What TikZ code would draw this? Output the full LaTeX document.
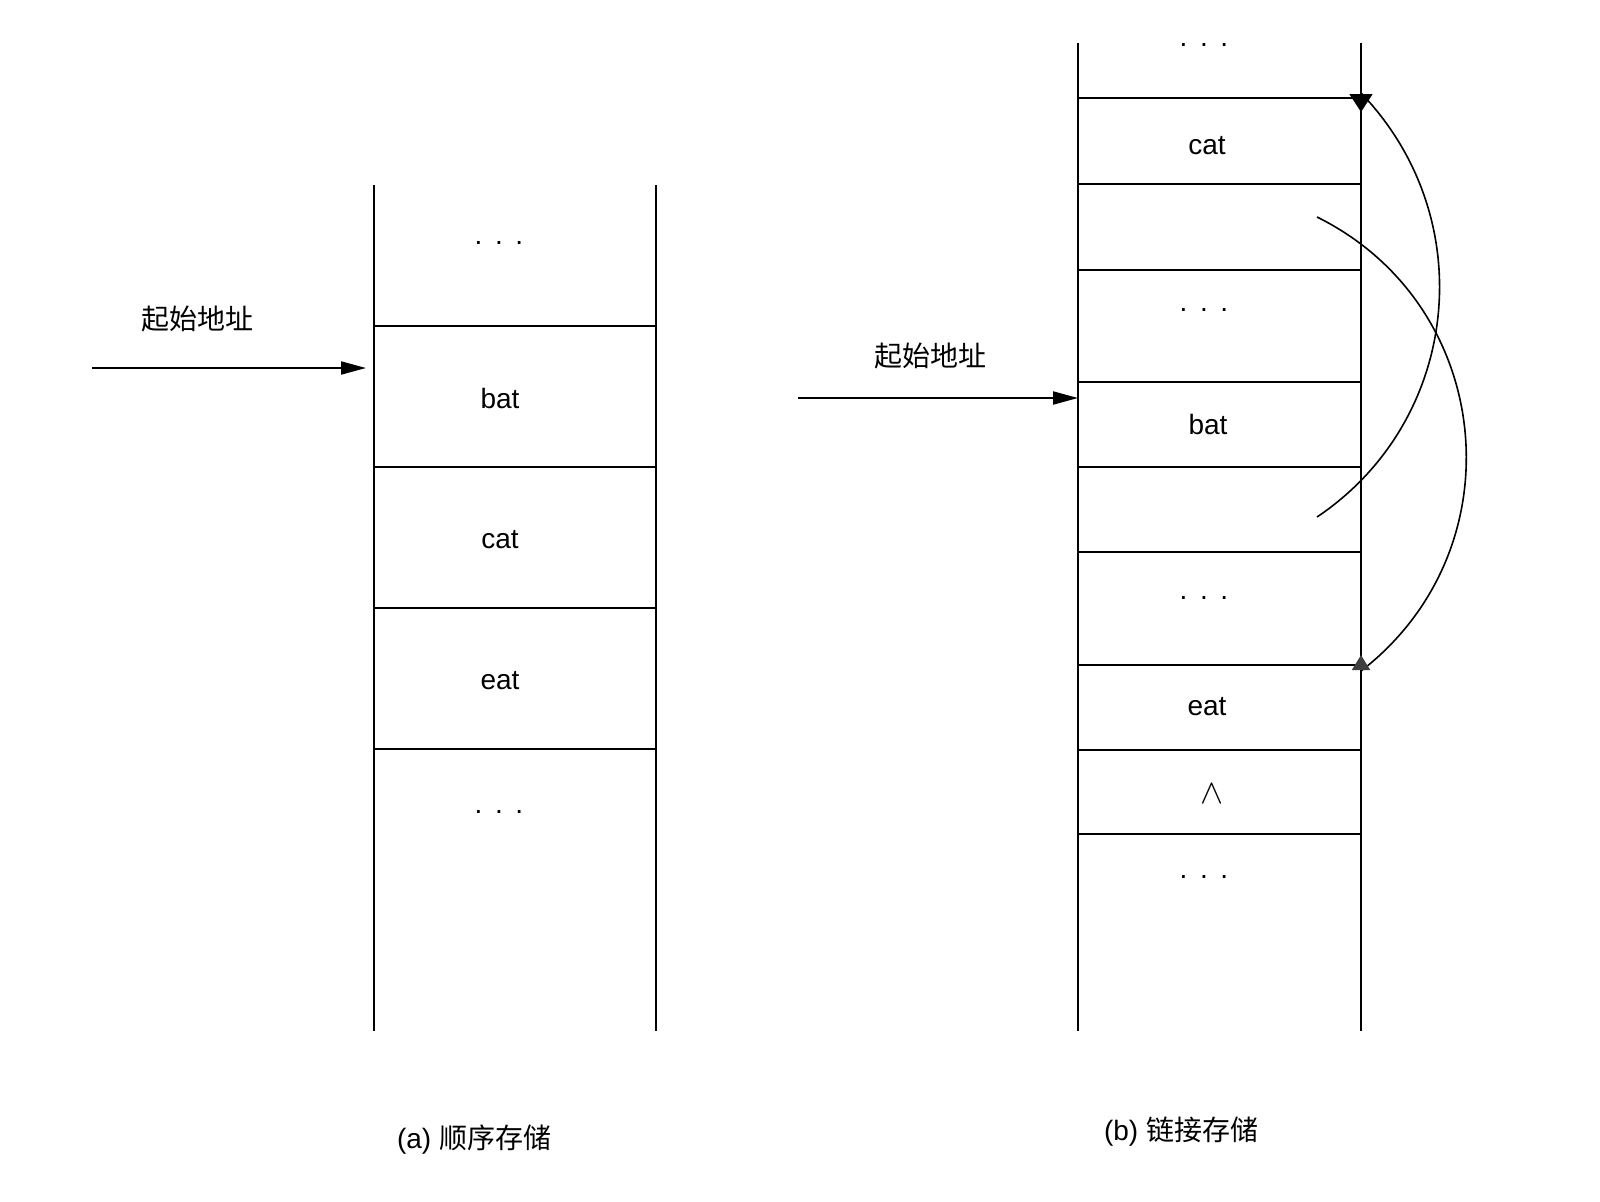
\documentclass[tikz,border=0pt]{standalone}
\usepackage{fontspec}
\setmainfont{Liberation Sans}
\newfontfamily\cjk{Noto Sans CJK SC}
\usetikzlibrary{arrows.meta}
\newcommand{\gap}{.\hspace{0.45em}.\hspace{0.45em}.}

\begin{document}
\begin{tikzpicture}[x=0.5pt,y=-0.5pt,font=\fontsize{14}{17}\selectfont]
\tikzset{wall/.style={line width=1pt},
word/.style={anchor=base,inner sep=0pt},
cn/.style={font=\fontsize{14}{17}\selectfont\cjk,inner sep=0pt},
start/.style={wall,-{Triangle[length=12.5pt,width=6.5pt]}},
link/.style={line width=0.8pt,line join=round}}
\useasboundingbox (0,0) rectangle (1600,1201);

% (a) sequential storage
\draw[wall] (374,185) -- (374,1031);
\draw[wall] (656,185) -- (656,1031);
\foreach \y in {326,467,608,749} \draw[wall] (374,\y) -- (656,\y);

\node[word] (sdots1) at (499,244) {\gap};
\node[word] (sbat) at (500,408) {bat};
\node[word] (scat) at (500,548) {cat};
\node[word] (seat) at (500,689) {eat};
\node[word] (sdots2) at (499,813) {\gap};

\node[cn] (sstart) at (197,319) {起始地址};
\coordinate (sfrom) at (92,368);
\coordinate (sentry) at (366,368);
\draw[start] (sfrom) -- (sentry);

\node (capa) at (474,1140) {(a) {\cjk 顺序存储}};

% (b) linked storage
\draw[wall] (1078,43) -- (1078,1031);
\draw[wall] (1361,43) -- (1361,1031);
\foreach \y in {98,184,270,382,467,552,665,750,834} \draw[wall] (1078,\y) -- (1361,\y);

\node[word] (ldots1) at (1204,46) {\gap};
\node[word] (lcat) at (1207,154) {cat};
\node[word] (ldots2) at (1204,311) {\gap};
\node[word] (lbat) at (1208,434) {bat};
\node[word] (ldots3) at (1204,599) {\gap};
\node[word] (leat) at (1207,715) {eat};
\node[word,font=\fontsize{17}{20}\selectfont] (lnull) at (1212,803) {$\wedge$};
\node[word] (ldots4) at (1204,878) {\gap};

\node[cn] (lstart) at (930,356) {起始地址};
\coordinate (lfrom) at (798,398);
\coordinate (lentry) at (1078,398);
\draw[start] (lfrom) -- (lentry);

% pointers
\coordinate (catlink) at (1317,217);
\coordinate (batlink) at (1317,517);
\coordinate (catbase) at (1361,93);
\coordinate (cattip) at (1361,112);
\coordinate (eatbase) at (1361,671);
\coordinate (eattip) at (1361,655);

\draw[link,-{Triangle[length=9pt,width=11.5pt]}] (batlink) .. controls (1460,421) and (1482,219) .. (catbase) -- (cattip);
\draw[link,-{Triangle[length=7.5pt,width=9pt,color=black!75]}] (catlink) .. controls (1495,305) and (1519,549) .. (eatbase) -- (eattip);

\node (capb) at (1181,1132) {(b) {\cjk 链接存储}};
\end{tikzpicture}
\end{document}
